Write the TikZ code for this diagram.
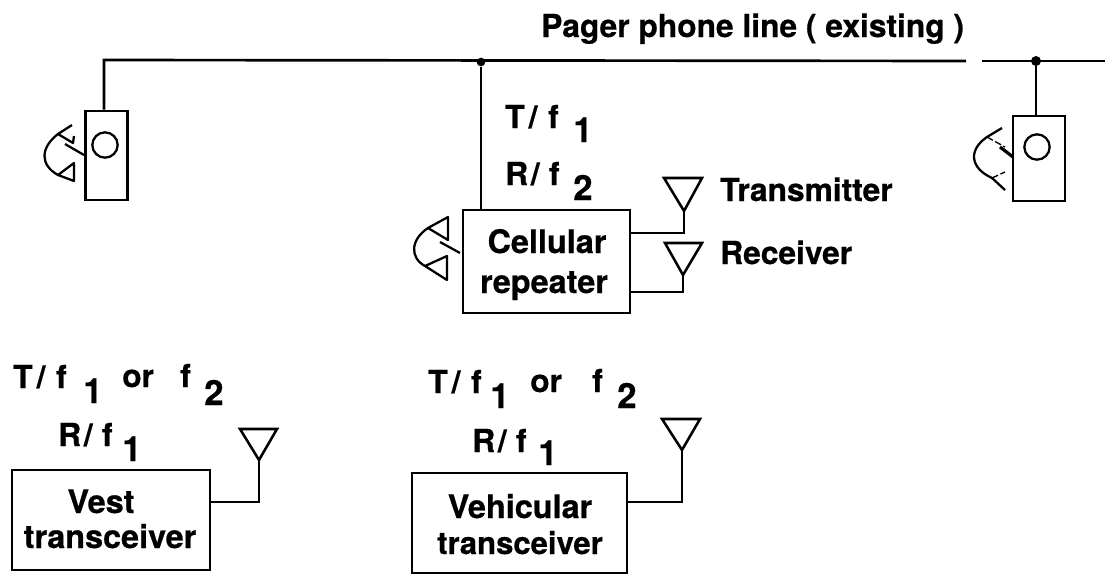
\documentclass[tikz,border=0pt]{standalone}
\usepackage{fontspec}
\setmainfont{TeX Gyre Heros}[BoldFeatures={FakeBold=0.6}]
\newcommand{\Tf}{T\kern 3pt/\kern 8pt f}
\newcommand{\Rf}{R\kern 2pt/\kern 7pt f}
\tikzset{
  wire/.style={line width=2pt,line join=miter},
  boxnode/.style={draw,line width=2.2pt,rectangle,inner sep=0pt},
  handset/.style={line width=1.7pt,line join=round},
  ant/.style={line width=1.9pt,line join=miter},
  txt/.style={font=\fontsize{23.8pt}{28pt}\selectfont\bfseries,anchor=base west,inner sep=0pt},
  ctxt/.style={font=\fontsize{24.3pt}{28pt}\selectfont\bfseries,anchor=base,inner sep=0pt},
  num/.style={font=\fontsize{26pt}{30pt}\selectfont\bfseries,anchor=base west,inner sep=0pt},
  junction/.style={circle,fill=black,inner sep=0pt,minimum size=6.5pt}
}
\begin{document}
\begin{tikzpicture}[x=0.75pt,y=-0.75pt]
\useasboundingbox (0,0) rectangle (1105,575);
% boxes
\node[boxnode,minimum width=32pt,minimum height=66.75pt] (ph1) at (106.5,155.5) {};
\node[boxnode,minimum width=39pt,minimum height=63.75pt] (ph2) at (1039,158.5) {};
\node[boxnode,minimum width=125.25pt,minimum height=77.25pt] (rep) at (546.5,261.5) {};
\node[boxnode,minimum width=148.5pt,minimum height=75pt] (vest) at (111,520) {};
\node[boxnode,minimum width=161.25pt,minimum height=75pt] (veh) at (519.5,523) {};
% phone circles
\node[draw,circle,line width=1.7pt,minimum size=19pt,inner sep=0pt] (c1) at (105,145) {};
\node[draw,circle,line width=1.7pt,minimum size=19pt,inner sep=0pt] (c2) at (1037,147) {};
% line
\coordinate (corner) at (104,60);
\coordinate (lineend) at (1105,61);
\coordinate (gapb) at (982,61);
\coordinate (lineleftend) at (966,61);
\node[junction] (j1) at (481,62) {};
\node[junction,minimum size=7.5pt] (j2) at (1036,61) {};
\draw[wire] (ph1.north -| corner) -- (corner) -- (lineleftend);
\draw[wire] (gapb) -- (lineend);
\draw[wire] (j1) -- (j1 |- rep.north);
\draw[wire] (j2) -- (j2 |- ph2.north);
% antennas
\coordinate (a1) at (684,211);
\coordinate (a2) at (683,275);
\coordinate (a3) at (259,460);
\coordinate (a4) at (682,450);
\draw[ant] (664,178) -- (702,178) -- (a1) -- cycle;
\draw[ant] (665,243) -- (702,243) -- (a2) -- cycle;
\draw[ant] (240,429) -- (277,429) -- (a3) -- cycle;
\draw[ant] (662,419) -- (700,419) -- (a4) -- cycle;
\draw[wire] (a1) -- (684,233) -- (rep.east |- 0,233);
\draw[wire] (a2) -- (683,292) -- (rep.east |- 0,292);
\draw[wire] (a3) -- (259,502) -- (vest.east |- 0,502);
\draw[wire] (a4) -- (682,502) -- (veh.east |- 0,502);
% handsets
\draw[handset] (72,125) -- (58,134) .. controls (40,148) and (40,165) .. (58,175);
\draw[handset] (58,175) -- (74,163) -- (74,181) -- cycle;
\draw[handset] (58,134) -- (73,143) -- (74,136);
\draw[handset] (65,144) -- (84,155);
\draw[handset] (448,217) -- (428,228) -- (448,240) -- cycle;
\draw[handset] (428,228) .. controls (410,240) and (410,258) .. (425,266);
\draw[handset] (425,266) -- (447,256) -- (447,280) -- cycle;
\draw[handset] (440,242) -- (460,253);
\draw[handset] (1002,128) -- (987,137) .. controls (968,150) and (970,168) .. (992,178) -- (1005,190);
\draw[handset,dash pattern=on 5pt off 2pt,line width=1pt] (987,137) -- (1005,147);
\draw[handset,dash pattern=on 5pt off 2pt,line width=1pt] (992,178) -- (1005,172);
\draw[line width=2.4pt] (1000,147) -- (1013,157);
% texts
\node[txt] (title) at (541,37) {Pager phone line ( existing )};
\node[txt] (t1) at (505,128) {\Tf};
\node[num] (t1n) at (573,142) {1};
\node[txt] (r1) at (505,185) {\Rf};
\node[num] (r1n) at (573,200) {2};
\node[txt] (tx) at (720,201) {Transmitter};
\node[txt] (rx) at (720,264) {Receiver};
\node[ctxt] (rep1) at (547,253) {Cellular};
\node[ctxt] (rep2) at (544,293) {repeater};
\node[ctxt] (vest1) at (101,513) {Vest};
\node[ctxt] (vest2) at (110,548) {transceiver};
\node[ctxt] (veh1) at (520,518) {Vehicular};
\node[ctxt,font=\fontsize{23.3pt}{28pt}\selectfont\bfseries] (veh2) at (520,554) {transceiver};
\node[txt] (vt) at (13,388) {\Tf};
\node[num] (vtn) at (83,403) {1};
\node[txt] (vo) at (122,387) {or};
\node[txt] (vf) at (180,387) {f};
\node[num] (vfn) at (204,405) {2};
\node[txt] (vr) at (58,446) {\Rf};
\node[num] (vrn) at (122,461) {1};
\node[txt] (ht) at (428,393) {\Tf};
\node[num] (htn) at (490,408) {1};
\node[txt] (ho) at (530,392) {or};
\node[txt] (hf) at (592,392) {f};
\node[num] (hfn) at (617,408) {2};
\node[txt] (hr) at (472,452) {\Rf};
\node[num] (hrn) at (538,465) {1};
\end{tikzpicture}
\end{document}
